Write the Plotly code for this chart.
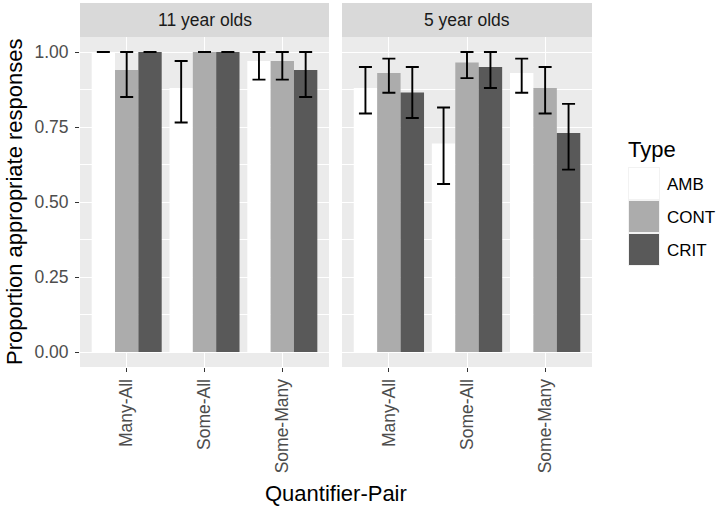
import plotly.graph_objects as go

categories = ["Many-All", "Some-All", "Some-Many"]
panels = ["11 year olds", "5 year olds"]
types = ["AMB", "CONT", "CRIT"]
colors = {"AMB": "#FFFFFF", "CONT": "#ACACAC", "CRIT": "#595959"}

# 11 year olds
mean_11 = {"AMB": [1.00, 0.88, 0.97], "CONT": [0.94, 1.00, 0.97], "CRIT": [1.00, 1.00, 0.94]}
upper_11 = {"AMB": [1.00, 0.97, 1.00], "CONT": [1.00, 1.00, 1.00], "CRIT": [1.00, 1.00, 1.00]}
lower_11 = {"AMB": [1.00, 0.765, 0.908], "CONT": [0.85, 1.00, 0.908], "CRIT": [1.00, 1.00, 0.85]}

# 5 year olds
mean_5 = {"AMB": [0.88, 0.695, 0.93], "CONT": [0.93, 0.965, 0.88], "CRIT": [0.865, 0.95, 0.73]}
upper_5 = {"AMB": [0.95, 0.815, 0.978], "CONT": [0.978, 1.00, 0.95], "CRIT": [0.95, 1.00, 0.827]}
lower_5 = {"AMB": [0.795, 0.56, 0.864], "CONT": [0.864, 0.913, 0.795], "CRIT": [0.78, 0.88, 0.608]}

y_ticks = [0, 0.25, 0.5, 0.75, 1.0]
y_ticktext = ["0.00", "0.25", "0.50", "0.75", "1.00"]

W, H = 720, 508
L, R, T, B = 80, 128, 37, 141
PW, PH = W - L - R, H - T - B


def px_x(p):
    return (p - L) / PW


def px_y(p):
    return (H - B - p) / PH


FONT = "Liberation Sans, Arial, sans-serif"

fig = go.Figure()
data_sets = [(mean_11, upper_11, lower_11, "x", "y"), (mean_5, upper_5, lower_5, "x2", "y2")]
for means, ups, lows, xa, ya in data_sets:
    for t in types:
        m = means[t]
        fig.add_trace(go.Bar(
            x=categories, y=m, name=t, xaxis=xa, yaxis=ya,
            marker=dict(color=colors[t], line=dict(width=0)),
            showlegend=False,
            error_y=dict(type="data", symmetric=False,
                         array=[u - v for u, v in zip(ups[t], m)],
                         arrayminus=[v - lo for v, lo in zip(m, lows[t])],
                         color="black", thickness=1.9, width=6.5),
        ))

left_end = px_x(329)
right_start = px_x(342)

xcommon = dict(type="category", categoryorder="array", categoryarray=categories,
               range=[-0.6, 2.6], showgrid=True, gridcolor="white", gridwidth=1.1,
               ticks="outside", ticklen=4, tickwidth=1.1, tickcolor="#333333",
               tickangle=-90, tickfont=dict(family=FONT, size=17.5, color="#4D4D4D"),
               zeroline=False, showline=False)
ycommon = dict(range=[-0.05, 1.05], tickvals=y_ticks, ticktext=y_ticktext,
               showgrid=True, gridcolor="white", gridwidth=1.1, zeroline=False,
               showline=False,
               minor=dict(tickvals=[0.125, 0.375, 0.625, 0.875], showgrid=True,
                          gridcolor="white", gridwidth=0.55, ticks=""))

fig.update_layout(
    width=W, height=H, margin=dict(l=L, r=R, t=T, b=B),
    paper_bgcolor="white", plot_bgcolor="white",
    barmode="group", bargap=0.1, bargroupgap=0,
    xaxis=dict(domain=[0, left_end], anchor="y", **xcommon),
    xaxis2=dict(domain=[right_start, 1], anchor="y2", **xcommon),
    yaxis=dict(domain=[0, 1], anchor="x", ticks="outside", ticklen=4, tickwidth=1.1,
               tickcolor="#333333", tickfont=dict(family=FONT, size=17.5, color="#4D4D4D"),
               ticklabelstandoff=3, **ycommon),
    yaxis2=dict(domain=[0, 1], anchor="x2", matches="y", showticklabels=False, ticks="",
                **ycommon),
    font=dict(family=FONT),
)

shapes = []
# panel backgrounds
for xa, ya in [("x", "y"), ("x2", "y2")]:
    shapes.append(dict(type="rect", xref=f"{xa} domain", yref=f"{ya} domain",
                       x0=0, x1=1, y0=0, y1=1, fillcolor="#EBEBEB",
                       line=dict(width=0), layer="below"))
# strips
strip_top = px_y(3)
for (x0, x1) in [(0, left_end), (right_start, 1)]:
    shapes.append(dict(type="rect", xref="paper", yref="paper", x0=x0, x1=x1,
                       y0=1, y1=strip_top, fillcolor="#D9D9D9", line=dict(width=0)))

annotations = []
for (x0, x1), name in zip([(0, left_end), (right_start, 1)], panels):
    annotations.append(dict(text=name, xref="paper", yref="paper", x=(x0 + x1) / 2,
                            y=px_y(20), showarrow=False, xanchor="center", yanchor="middle",
                            font=dict(family=FONT, size=17.5, color="#1A1A1A")))

# axis titles
annotations.append(dict(text="Quantifier-Pair", xref="paper", yref="paper", x=0.5,
                        y=px_y(493), showarrow=False, xanchor="center", yanchor="middle",
                        font=dict(family=FONT, size=22, color="black")))
annotations.append(dict(text="Proportion appropriate responses", xref="paper", yref="paper",
                        x=px_x(14), y=px_y(202), showarrow=False, textangle=-90,
                        xanchor="center", yanchor="middle",
                        font=dict(family=FONT, size=22, color="black")))

# legend (manual, ggplot style)
annotations.append(dict(text="Type", xref="paper", yref="paper", x=px_x(626), y=px_y(149),
                        showarrow=False, xanchor="left", yanchor="middle",
                        font=dict(family=FONT, size=22, color="black")))
key_tops = [167, 200, 233]
for t, top in zip(types, key_tops):
    shapes.append(dict(type="rect", xref="paper", yref="paper",
                       x0=px_x(628), x1=px_x(660), y0=px_y(top + 33), y1=px_y(top),
                       fillcolor="#F2F2F2", line=dict(width=0)))
    shapes.append(dict(type="rect", xref="paper", yref="paper",
                       x0=px_x(629), x1=px_x(659), y0=px_y(top + 32), y1=px_y(top + 1),
                       fillcolor=colors[t], line=dict(width=0)))
    annotations.append(dict(text=t, xref="paper", yref="paper", x=px_x(665),
                            y=px_y(top + 17), showarrow=False, xanchor="left",
                            yanchor="middle",
                            font=dict(family=FONT, size=17, color="black")))

fig.update_layout(shapes=shapes, annotations=annotations)
fig.write_html("out.html", config={"displayModeBar": False},
               post_script="document.body.style.margin='0px';document.body.style.overflow='hidden';")
